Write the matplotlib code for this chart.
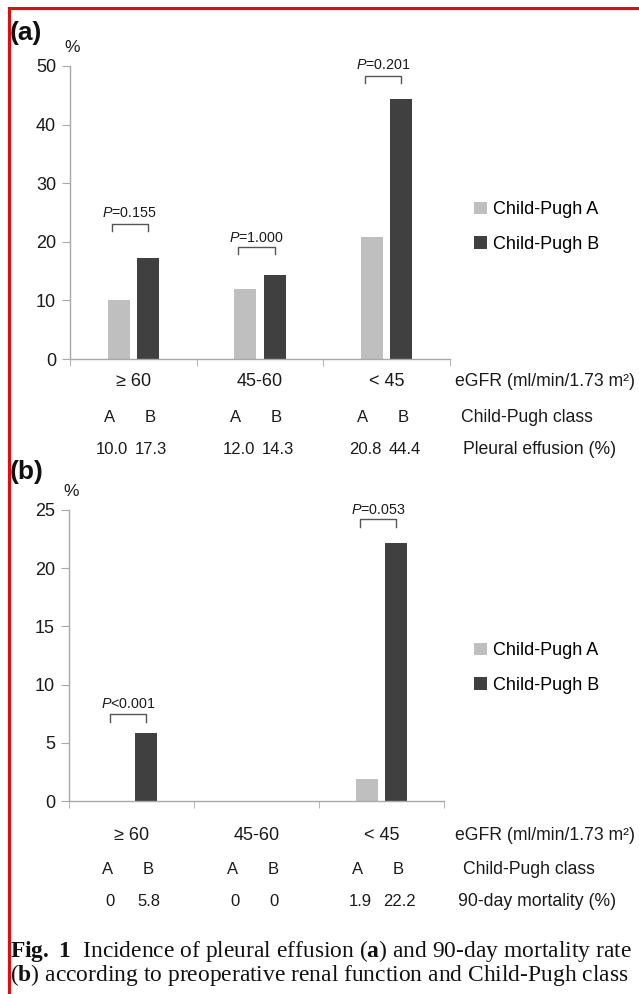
import matplotlib
matplotlib.use("Agg")
import matplotlib.pyplot as plt
import matplotlib.transforms as mtrans
from matplotlib.lines import Line2D
from matplotlib.patches import Patch

plt.rcParams["font.family"] = ["Liberation Sans", "DejaVu Sans"]
plt.rcParams["mathtext.fontset"] = "custom"
plt.rcParams["mathtext.it"] = "Liberation Sans:italic"
plt.rcParams["mathtext.rm"] = "Liberation Sans"
plt.rcParams["mathtext.bf"] = "Liberation Serif:bold"

# data
groups = ["\u2265 60", "45-60", "< 45"]
classes = ["A", "B"]
effusion_a = [10.0, 12.0, 20.8]
effusion_b = [17.3, 14.3, 44.4]
mortality_a = [0.0, 0.0, 1.9]
mortality_b = [5.8, 0.0, 22.2]
effusion_labels_a = ["10.0", "12.0", "20.8"]
effusion_labels_b = ["17.3", "14.3", "44.4"]
mortality_labels_a = ["0", "0", "1.9"]
mortality_labels_b = ["5.8", "0", "22.2"]
p_effusion = ["$P$=0.155", "$P$=1.000", "$P$=0.201"]
p_mortality = ["$P$<0.001", None, "$P$=0.053"]

W, H = 639, 994
COL_A = "#bfbfbf"
COL_B = "#404040"
AXIS = "#a8a8a8"
TXT = "#1a1a1a"


def fx(px):
    return px / W


def fy(py):
    return 1 - py / H


fig = plt.figure(figsize=(W / 100, H / 100), dpi=100)

# red frame (left and top)
fig.add_artist(Line2D([fx(9), fx(9)], [fy(8), 0], color="#ff0000", lw=2.2))
fig.add_artist(Line2D([fx(9), 1], [fy(8), fy(8)], color="#ff0000", lw=2.2))


def panel(rect_px, ymax, ystep, vals_a, vals_b, pvals, p_text_y, p_brk_y, leg,
          labs_a, labs_b, rows_px, row_names, name_x, letter, letter_y, pct_y, legend_y):
    left, right, top, bottom = rect_px
    ax = fig.add_axes([fx(left), fy(bottom), (right - left) / W, (bottom - top) / H])
    x = range(len(groups))
    w = 0.173
    off = 0.116
    ax.bar([i - off for i in x], vals_a, width=w, color=COL_A, linewidth=0, label="Child-Pugh A")
    ax.bar([i + off for i in x], vals_b, width=w, color=COL_B, linewidth=0, label="Child-Pugh B")
    ax.set_xlim(-0.5, len(groups) - 0.5)
    ax.set_ylim(0, ymax)
    ax.set_yticks(range(0, ymax + 1, ystep))
    ax.set_xticks([])
    ax.set_xticks([i - 0.5 for i in range(len(groups) + 1)], minor=True)
    for s in ("top", "right"):
        ax.spines[s].set_visible(False)
    for s in ("left", "bottom"):
        ax.spines[s].set_color(AXIS)
        ax.spines[s].set_linewidth(1)
    ax.tick_params(axis="y", length=6, color=AXIS, labelsize=13, labelcolor=TXT, pad=4)
    ax.tick_params(axis="x", which="minor", length=5, color=AXIS)

    # p-value brackets
    for i, p in enumerate(pvals):
        if p is None:
            continue
        x0, x1 = i - 0.17, i + 0.115
        yb = p_brk_y[i]
        ax.plot([x0, x0, x1, x1], [yb - leg, yb, yb, yb - leg], color="#555555", lw=1,
                clip_on=False)
        ax.text((x0 + x1) / 2, p_text_y[i], p, ha="center", va="center", fontsize=10.3,
                color=TXT, clip_on=False)

    tr = mtrans.blended_transform_factory(ax.transData, fig.transFigure)
    for i, g in enumerate(groups):
        ax.text(i, fy(rows_px[0]), g, transform=tr, ha="center", va="center",
                fontsize=13, color=TXT)
        ax.text(i - 0.19, fy(rows_px[1]), classes[0], transform=tr, ha="center",
                va="center", fontsize=12, color=TXT)
        ax.text(i + 0.13, fy(rows_px[1]), classes[1], transform=tr, ha="center",
                va="center", fontsize=12, color=TXT)
        ax.text(i - 0.17, fy(rows_px[2]), labs_a[i], transform=tr, ha="center",
                va="center", fontsize=12, color=TXT)
        ax.text(i + 0.14, fy(rows_px[2]), labs_b[i], transform=tr, ha="center",
                va="center", fontsize=12, color=TXT)
    for r, nm, nx in zip(rows_px, row_names, name_x):
        fig.text(fx(nx), fy(r), nm, ha="left", va="center", fontsize=12.7, color=TXT)

    fig.text(fx(10), fy(letter_y), letter, ha="left", va="center", fontsize=19,
             fontweight="bold", color="#111111")
    fig.text(fx(left + 2), fy(pct_y), "%", ha="center", va="center", fontsize=12.5, color=TXT)

    handles = [Patch(facecolor=COL_A, edgecolor="none"), Patch(facecolor=COL_B, edgecolor="none")]
    fig.legend(handles, ["Child-Pugh A", "Child-Pugh B"], loc="center left",
               bbox_to_anchor=(fx(474), fy(legend_y)), frameon=False, fontsize=13,
               handlelength=0.7, handleheight=0.7, handletextpad=0.35,
               labelspacing=0.95, borderpad=0, borderaxespad=0)
    return ax


panel((70, 450, 66, 359), 50, 10, effusion_a, effusion_b, p_effusion,
      [24.9, 20.6, 50.2], [23.0, 19.1, 48.3], 1.2,
      effusion_labels_a, effusion_labels_b, (381, 418, 450),
      ["eGFR (ml/min/1.73 m\u00b2)", "Child-Pugh class", "Pleural effusion (%)"],
      (455, 461, 463), "(a)", 33, 47, 227)

panel((69, 444, 510, 801), 25, 5, mortality_a, mortality_b, p_mortality,
      [8.33, 0, 25.0], [7.47, 0, 24.2], 0.65,
      mortality_labels_a, mortality_labels_b, (835, 870, 902),
      ["eGFR (ml/min/1.73 m\u00b2)", "Child-Pugh class", "90-day mortality (%)"],
      (455, 463, 458), "(b)", 472, 492, 668)

cap_kw = dict(ha="left", va="center", fontsize=16.9, family="Liberation Serif", color="#111111")
fig.text(fx(10), fy(951),
         r"$\mathbf{Fig.\ 1}$  Incidence of pleural effusion ($\mathbf{a}$) and 90-day mortality rate",
         **cap_kw)
fig.text(fx(10), fy(975),
         r"($\mathbf{b}$) according to preoperative renal function and Child-Pugh class",
         **cap_kw)

fig.savefig("out.png", dpi=100, facecolor="white")
